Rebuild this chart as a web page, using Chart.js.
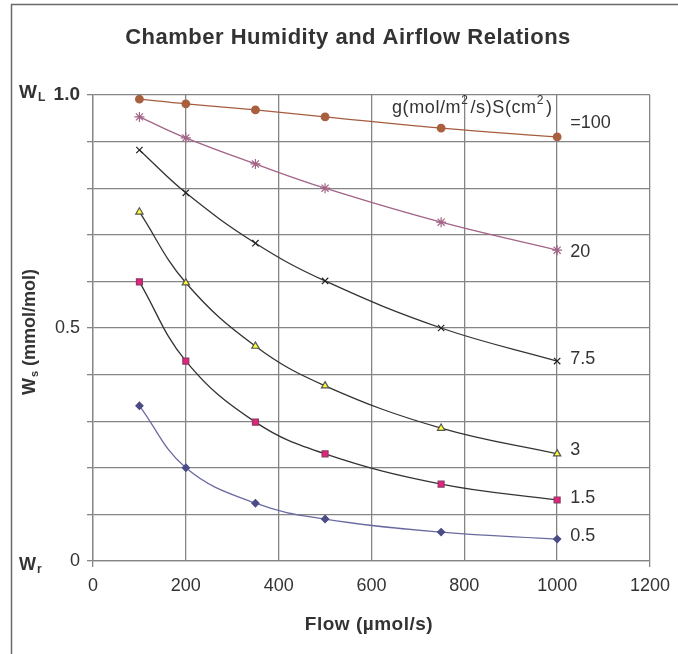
<!DOCTYPE html>
<html lang="en">
<head>
    <meta charset="UTF-8">
    <title>Chamber Humidity and Airflow Relations</title>
    <script src="https://cdn.jsdelivr.net/npm/chart.js"></script>
    <style>
        body { margin: 0; background: #fff; }
        canvas { display: block; }
    </style>
</head>
<body>
    <canvas id="humidityChart" width="678" height="654"></canvas>

    <script>
        // Flow values (umol/s) at which each curve was sampled
        const flow = [100, 200, 350, 500, 750, 1000];

        // Ws (mmol/mol) for each g*S value
        const gs100 = [0.991, 0.981, 0.968, 0.953, 0.929, 0.910];
        const gs20  = [0.953, 0.908, 0.852, 0.800, 0.727, 0.667];
        const gs7_5 = [0.882, 0.790, 0.682, 0.601, 0.500, 0.429];
        const gs3   = [0.749, 0.597, 0.461, 0.376, 0.285, 0.230];
        const gs1_5 = [0.599, 0.429, 0.298, 0.230, 0.165, 0.131];
        const gs0_5 = [0.333, 0.200, 0.124, 0.090, 0.062, 0.047];

        const seriesLabels = ['=100', '20', '7.5', '3', '1.5', '0.5'];
        const yTickValues = [0, 0.5, 1];
        const yTickText = ['0', '0.5', '1.0'];

        const FONT = '"Liberation Sans", Arial, Helvetica, sans-serif';
        const TEXT = '#333';
        const GRID = '#858585';

        function points(vals) {
            return flow.map((x, i) => ({ x: x, y: vals[i] }));
        }

        function series(label, vals, line, style, fill, border, radius) {
            return {
                label: label,
                data: points(vals),
                borderColor: line,
                borderWidth: 1.3,
                tension: 0.4,
                pointStyle: style,
                pointRadius: radius,
                pointBackgroundColor: fill,
                pointBorderColor: border,
                pointBorderWidth: 1.2
            };
        }

        const datasets = [
            series(seriesLabels[0], gs100, '#a65c3e', 'circle', '#a9603f', '#a9603f', 3.8),
            series(seriesLabels[1], gs20, '#a26487', 'star', '#a26487', '#a26487', 5),
            series(seriesLabels[2], gs7_5, '#333333', 'crossRot', '#222', '#222', 4.5),
            series(seriesLabels[3], gs3, '#333333', 'triangle', '#ffff33', '#555', 4.2),
            series(seriesLabels[4], gs1_5, '#333333', 'rect', '#e8207f', '#8a3a60', 4.2),
            series(seriesLabels[5], gs0_5, '#6a6aa2', 'rectRot', '#4b4b86', '#4b4b86', 3.6)
        ];

        // vertical nudges for the curve labels, relative to the last point
        const labelNudge = [-14, 2, -2, -4, -2, -3];

        function textWithSub(ctx, main, sub, x, y, size, subSize, drop) {
            ctx.font = 'bold ' + size + 'px ' + FONT;
            ctx.fillText(main, x, y);
            const w = ctx.measureText(main).width;
            ctx.font = 'bold ' + subSize + 'px ' + FONT;
            ctx.fillText(sub, x + w + 1, y + drop);
        }

        const decorations = {
            id: 'decorations',
            beforeDraw(chart) {
                const ctx = chart.ctx;
                ctx.save();
                ctx.fillStyle = '#fff';
                ctx.fillRect(0, 0, chart.width, chart.height);
                // frame of the original figure
                ctx.strokeStyle = '#6a6a6a';
                ctx.lineWidth = 1.5;
                ctx.beginPath();
                ctx.moveTo(11.5, chart.height);
                ctx.lineTo(11.5, 4.5);
                ctx.lineTo(chart.width, 4.5);
                ctx.stroke();
                ctx.restore();
            },
            afterDraw(chart) {
                const ctx = chart.ctx;
                const x = chart.scales.x;
                const y = chart.scales.y;
                ctx.save();
                ctx.fillStyle = TEXT;
                ctx.textBaseline = 'middle';

                // title
                ctx.textAlign = 'center';
                ctx.letterSpacing = '0.5px';
                ctx.font = 'bold 22px ' + FONT;
                ctx.fillText('Chamber Humidity and Airflow Relations', 348, 38);

                // x axis title
                ctx.font = 'bold 19px ' + FONT;
                ctx.fillText('Flow (\u00b5mol/s)', 369, 625);
                ctx.letterSpacing = '0px';

                // WL and Wr next to the y ticks
                ctx.textAlign = 'left';
                textWithSub(ctx, 'W', 'L', 19, y.getPixelForValue(1) - 2, 19, 12, 5);
                textWithSub(ctx, 'W', 'r', 19, y.getPixelForValue(0) + 4, 18, 12, 5);

                // y axis title, rotated
                ctx.save();
                ctx.translate(30, 332);
                ctx.rotate(-Math.PI / 2);
                ctx.font = 'bold 18px ' + FONT;
                const w1 = ctx.measureText('W').width;
                const rest = ' (mmol/mol)';
                const w3 = ctx.measureText(rest).width;
                ctx.font = 'bold 11px ' + FONT;
                const w2 = ctx.measureText('s').width;
                let start = -(w1 + w2 + 1 + w3) / 2;
                ctx.font = 'bold 18px ' + FONT;
                ctx.fillText('W', start, 0);
                ctx.font = 'bold 11px ' + FONT;
                ctx.fillText('s', start + w1 + 1, 5);
                ctx.font = 'bold 18px ' + FONT;
                ctx.fillText(rest, start + w1 + w2 + 1, 0);
                ctx.restore();

                // legend header inside the plot, superscripts drawn by hand
                const parts = [['g(mol/m', 0], ['2', 1], ['/s)S(cm', 0], ['2', 1], [')', 0]];
                let hx = 392;
                ctx.letterSpacing = '0.6px';
                parts.forEach(p => {
                    ctx.font = (p[1] ? '12px ' : '18px ') + FONT;
                    ctx.fillText(p[0], hx, p[1] ? 101 : 108);
                    hx += ctx.measureText(p[0]).width + (p[1] ? 2 : 0);
                });
                ctx.letterSpacing = '0px';

                // curve labels at the right end of each line
                ctx.font = '18px ' + FONT;
                chart.data.datasets.forEach((ds, i) => {
                    const last = ds.data[ds.data.length - 1];
                    ctx.fillText(seriesLabels[i], x.getPixelForValue(last.x) + 13,
                        y.getPixelForValue(last.y) + labelNudge[i]);
                });
                ctx.restore();
            }
        };

        const ctx = document.getElementById('humidityChart').getContext('2d');
        new Chart(ctx, {
            type: 'line',
            data: { datasets: datasets },
            options: {
                responsive: false,
                animation: false,
                layout: { padding: { top: 95, right: 28, left: 0, bottom: 0 } },
                plugins: {
                    legend: { display: false },
                    title: { display: false },
                    tooltip: { enabled: false }
                },
                scales: {
                    x: {
                        type: 'linear',
                        min: 0,
                        max: 1200,
                        ticks: {
                            stepSize: 200,
                            color: TEXT,
                            padding: 8,
                            callback: v => String(v),
                            font: { family: FONT, size: 18 }
                        },
                        grid: {
                            color: GRID,
                            lineWidth: 1.3,
                            tickLength: 6,
                            tickColor: c => (c.tick && (c.tick.value === 0 || c.tick.value === 1200)) ? GRID : 'rgba(0,0,0,0)'
                        },
                        border: { color: GRID, width: 1.3 },
                        afterFit(scale) { scale.height = 93; }
                    },
                    y: {
                        type: 'linear',
                        min: 0,
                        max: 1,
                        ticks: {
                            stepSize: 0.1,
                            color: TEXT,
                            padding: 7,
                            autoSkip: false,
                            callback: v => {
                                const k = yTickValues.findIndex(t => Math.abs(t - v) < 1e-6);
                                return k >= 0 ? yTickText[k] : '';
                            },
                            font: c => (c.tick && Math.abs(c.tick.value - 1) < 1e-6)
                                ? { family: FONT, size: 19, weight: 'bold' }
                                : { family: FONT, size: 18 }
                        },
                        grid: {
                            color: GRID,
                            lineWidth: 1.3,
                            tickLength: 6
                        },
                        border: { color: GRID, width: 1.3 },
                        afterFit(scale) { scale.width = 93; }
                    }
                }
            },
            plugins: [decorations]
        });
    </script>
</body>
</html>
